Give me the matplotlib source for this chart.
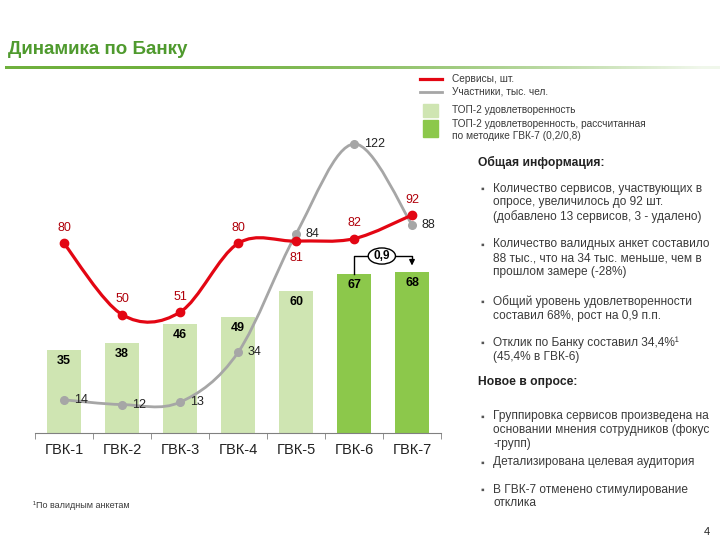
import matplotlib.pyplot as plt
import numpy as np
from matplotlib.path import Path
from matplotlib.patches import PathPatch, Ellipse, Rectangle
from matplotlib.lines import Line2D

plt.rcParams['font.family'] = ['Liberation Sans', 'DejaVu Sans']

# data
categories = ['ГВК-1', 'ГВК-2', 'ГВК-3', 'ГВК-4', 'ГВК-5', 'ГВК-6', 'ГВК-7']
top2 = [35, 38, 46, 49, 60, 67, 68]
new_method = [False, False, False, False, False, True, True]
services = [80, 50, 51, 80, 81, 82, 92]
participants = [14, 12, 13, 34, 84, 122, 88]
delta_label = '0,9'

legend_labels = ['Сервисы, шт.', 'Участники, тыс. чел.', 'ТОП-2 удовлетворенность',
                 'ТОП-2 удовлетворенность, рассчитанная\nпо методике ГВК-7 (0,2/0,8)']

info_title = 'Общая информация:'
info_items = ['Количество сервисов, участвующих в\nопросе, увеличилось до 92 шт.\n(добавлено 13 сервисов, 3 - удалено)',
              'Количество валидных анкет составило\n88 тыс., что на 34 тыс. меньше, чем в\nпрошлом замере (-28%)',
              'Общий уровень удовлетворенности\nсоставил 68%, рост на 0,9 п.п.',
              'Отклик по Банку составил 34,4%¹\n(45,4% в ГВК-6)']
new_title = 'Новое в опросе:'
new_items = ['Группировка сервисов произведена на\nосновании мнения сотрудников (фокус\n-групп)',
             'Детализирована целевая аудитория',
             'В ГВК-7 отменено стимулирование\nотклика']

RED = '#e30613'
RED_TXT = '#b0000a'
GRAY = '#a6a6a6'
LIGHT = '#cfe5b2'
DARK = '#8cc84b'
TXT = '#3a3a3a'


def smooth_path(xs, ys):
    # Catmull-Rom style Bezier segments through the points (like Excel smoothing)
    pts = np.column_stack([xs, ys]).astype(float)
    n = len(pts)
    verts = [pts[0]]
    codes = [Path.MOVETO]
    for i in range(n - 1):
        p0 = pts[i - 1] if i > 0 else pts[i]
        p1 = pts[i]
        p2 = pts[i + 1]
        p3 = pts[i + 2] if i + 2 < n else pts[i + 1]
        verts += [p1 + (p2 - p0) / 6, p2 - (p3 - p1) / 6, p2]
        codes += [Path.CURVE4] * 3
    return Path(verts, codes)


fig = plt.figure(figsize=(7.2, 5.4), dpi=100)

# title + gradient rule
fig.text(8 / 720, 1 - 50 / 540, 'Динамика по Банку', fontsize=13.5, fontweight='bold',
         color='#4f9a2e', va='center', ha='left')
gax = fig.add_axes([5 / 720, 1 - 69 / 540, 715 / 720, 3 / 540])
grad = np.ones((1, 256, 4))
grad[..., 0] = 0x6f / 255
grad[..., 1] = 0xb0 / 255
grad[..., 2] = 0x3d / 255
grad[..., 3] = np.clip(1.05 - np.linspace(0, 1, 256) ** 2, 0.1, 1)
gax.imshow(grad, aspect='auto', interpolation='bilinear')
gax.axis('off')

# main chart
ax = fig.add_axes([35 / 720, 107 / 540, 406 / 720, 308 / 540])
x = np.arange(len(categories))
colors = [DARK if m else LIGHT for m in new_method]
ax.bar(x, top2, width=0.6, color=colors, zorder=1)
for xi, v in zip(x, top2):
    ax.annotate(str(v), (xi, v), xytext=(0, -8), textcoords='offset points',
                ha='center', va='center', fontsize=9, fontweight='bold', color='black')

ax.add_patch(PathPatch(smooth_path(x, participants), fill=False, color=GRAY, lw=2, zorder=2))
ax.plot(x, participants, 'o', color=GRAY, ms=5.5, zorder=3)
for xi, v in zip(x, participants):
    ax.annotate(str(v), (xi, v), xytext=(7, 0), textcoords='offset points',
                ha='left', va='center', fontsize=9, color='#222222')

ax.add_patch(PathPatch(smooth_path(x, services), fill=False, color=RED, lw=2.3, zorder=4))
ax.plot(x, services, 'o', color=RED, ms=6, zorder=5)
for i, (xi, v) in enumerate(zip(x, services)):
    dy = -12 if i == 4 else 11
    ax.annotate(str(v), (xi, v), xytext=(0, dy), textcoords='offset points',
                ha='center', va='center', fontsize=9, color=RED_TXT)

# change bracket between the last two bars
yb = 74.7
ax.plot([5, 5, 5.245], [top2[5], yb, yb], color='black', lw=1, zorder=6)
ax.plot([5.715, 6, 6], [yb, yb, yb - 1], color='black', lw=1, zorder=6)
ax.annotate('', xy=(6, top2[6] + 1.5), xytext=(6, yb - 0.5),
            arrowprops=dict(arrowstyle='-|>', color='black', lw=1, mutation_scale=8), zorder=6)
ax.add_patch(Ellipse((5.48, yb), 0.47, 6.8, facecolor='white', edgecolor='black', lw=1, zorder=6))
ax.text(5.48, yb, delta_label, ha='center', va='center', fontsize=8.5, fontweight='bold', zorder=7)

ax.set_xlim(-0.5, len(categories) - 0.5)
ax.set_ylim(0, 130)
for s in ['left', 'right', 'top']:
    ax.spines[s].set_visible(False)
ax.spines['bottom'].set_color('#808080')
ax.set_yticks([])
ax.set_xticks(x)
ax.set_xticklabels(categories, fontsize=10.5, color='#222222')
ax.tick_params(axis='x', which='major', length=0, pad=7)
ax.set_xticks(np.arange(-0.5, len(categories)), minor=True)
ax.tick_params(axis='x', which='minor', length=4, color='#808080', direction='out')

# legend
def fx(px):
    return px / 720


def fy(py):
    return 1 - py / 540


fig.add_artist(Line2D([fx(420), fx(442)], [fy(79), fy(79)], color=RED, lw=2.3))
fig.add_artist(Line2D([fx(420), fx(442)], [fy(92), fy(92)], color=GRAY, lw=2))
fig.add_artist(Rectangle((fx(423), fy(117)), 15 / 720, 13 / 540, color=LIGHT))
fig.add_artist(Rectangle((fx(423), fy(137)), 15 / 720, 17 / 540, color=DARK))
for ly, lab in zip([79, 92, 110, 130], legend_labels):
    fig.text(fx(452), fy(ly), lab, fontsize=7.3, color=TXT, va='center', ha='left',
             linespacing=1.35)

# right text panel
fig.text(fx(478), fy(162), info_title, fontsize=8.7, fontweight='bold', color='#222222',
         va='center')
for fy0, item in zip([189, 245, 302, 343], info_items):
    fig.text(fx(480), fy(fy0), '▪', fontsize=7.5, color='#555555', va='center')
    fig.text(fx(493), fy(fy0 - 6.5), item, fontsize=8.6, color=TXT, va='top', linespacing=1.2)
fig.text(fx(478), fy(382), new_title, fontsize=8.7, fontweight='bold', color='#222222',
         va='center')
for fy0, item in zip([417, 463, 490], new_items):
    fig.text(fx(480), fy(fy0), '▪', fontsize=7.5, color='#555555', va='center')
    fig.text(fx(493), fy(fy0 - 6.5), item, fontsize=8.6, color=TXT, va='top', linespacing=1.2)

fig.text(fx(707), fy(532), '4', fontsize=8, color='#222222', va='center', ha='center')
fig.text(fx(33), fy(505), '¹По валидным анкетам', fontsize=6.5, color=TXT, va='center')

fig.savefig('out.png', dpi=100)
